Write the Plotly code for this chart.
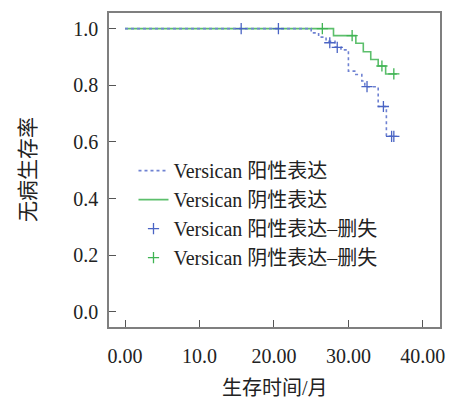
import plotly.graph_objects as go

# Kaplan-Meier step data
pos_t = [0, 25.0, 26.0, 27.0, 28.2, 29.0, 30.0, 31.0, 31.8, 32.2, 34.0, 35.1, 36.2]
pos_s = [1.0, 0.985, 0.97, 0.955, 0.935, 0.925, 0.85, 0.838, 0.815, 0.795, 0.725, 0.62, 0.62]
pos_cens_t = [15.6, 20.6, 27.5, 28.5, 32.5, 34.7, 35.8, 36.1]
pos_cens_s = [1.0, 1.0, 0.95, 0.934, 0.795, 0.725, 0.62, 0.62]

neg_t = [0, 28.0, 31.0, 32.0, 33.0, 34.0, 35.0, 36.5]
neg_s = [1.0, 0.975, 0.948, 0.918, 0.891, 0.868, 0.84, 0.84]
neg_cens_t = [26.5, 30.5, 34.5, 36.1]
neg_cens_s = [1.0, 0.975, 0.868, 0.84]

x_ticks = [0, 10, 20, 30, 40]
x_ticktext = ["0.00", "10.0", "20.00", "30.00", "40.00"]
y_ticks = [0, 0.2, 0.4, 0.6, 0.8, 1.0]
y_ticktext = ["0.0", "0.2", "0.4", "0.6", "0.8", "1.0"]

names = ["Versican 阳性表达", "Versican 阴性表达",
         "Versican 阳性表达–删失", "Versican 阴性表达–删失"]
x_title = "生存时间/月"
y_title = "无病生存率"

BLUE = "#6f82d2"
GREEN = "#5cbf6c"
BLUE_M = "#4a64c4"
GREEN_M = "#3fb453"
FONT = "Liberation Serif, Noto Sans CJK SC, serif"

fig = go.Figure()
fig.add_trace(go.Scatter(x=neg_t, y=neg_s, mode="lines", line_shape="hv",
                         line=dict(color=GREEN, width=1.6), name=names[1], legendrank=2))
fig.add_trace(go.Scatter(x=pos_t, y=pos_s, mode="lines", line_shape="hv",
                         line=dict(color=BLUE, width=1.6, dash="dot"), name=names[0], legendrank=1))
fig.add_trace(go.Scatter(x=pos_cens_t, y=pos_cens_s, mode="markers",
                         marker=dict(symbol="cross-thin", size=8, line=dict(color=BLUE_M, width=1.3)),
                         name=names[2], legendrank=3))
fig.add_trace(go.Scatter(x=neg_cens_t, y=neg_cens_s, mode="markers",
                         marker=dict(symbol="cross-thin", size=8, line=dict(color=GREEN_M, width=1.3)),
                         name=names[3], legendrank=4))

axis_common = dict(showline=True, linecolor="#7f7f7f", linewidth=1.6, mirror=True,
                   ticks="inside", ticklen=7, tickcolor="#555555", tickwidth=1.3,
                   showgrid=False, zeroline=False, automargin=False,
                   tickfont=dict(family=FONT, size=20, color="#222222"))

fig.update_layout(
    width=461, height=406,
    margin=dict(l=109, r=21, t=13, b=79),
    paper_bgcolor="white", plot_bgcolor="white",
    font=dict(family=FONT, color="#222222"),
    xaxis=dict(range=[-2.15, 42.3], tickvals=x_ticks, ticktext=x_ticktext,
               ticklabelstandoff=10, **axis_common),
    yaxis=dict(range=[-0.053, 1.055], tickvals=y_ticks, ticktext=y_ticktext,
               ticklabelstandoff=5, **axis_common),
    legend=dict(x=0.074, y=0.56, xanchor="left", yanchor="top",
                bgcolor="rgba(0,0,0,0)", font=dict(family=FONT, size=20, color="#222222"),
                itemwidth=30),
    showlegend=True,
    annotations=[
        dict(text=x_title, xref="paper", yref="paper", x=0.5, y=0, yshift=-61,
             xanchor="center", yanchor="middle", showarrow=False,
             font=dict(family=FONT, size=20, color="#222222")),
        dict(text=y_title, xref="paper", yref="paper", x=0, xshift=-81, y=0.5,
             xanchor="center", yanchor="middle", showarrow=False, textangle=-90,
             font=dict(family=FONT, size=21, color="#222222")),
    ],
)

fig.write_html("out.html", config={"displayModeBar": False},
               post_script="document.body.style.margin='0';")
